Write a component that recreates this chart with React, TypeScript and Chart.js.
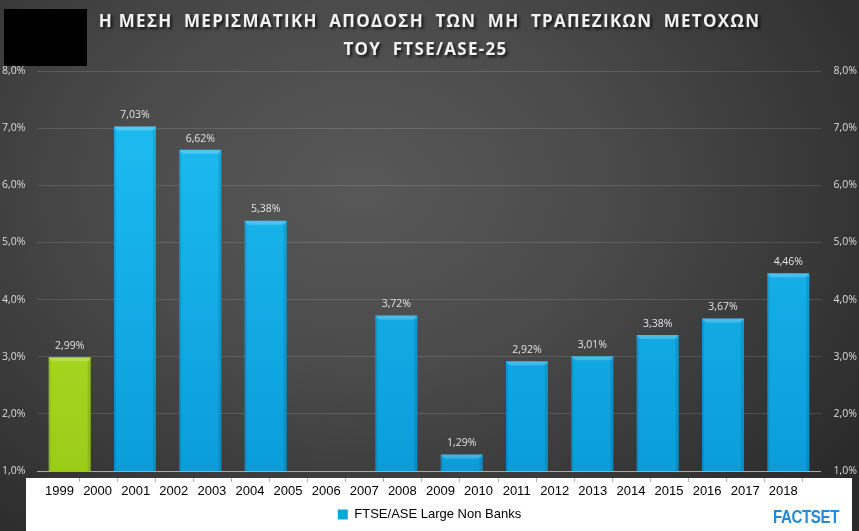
import React, { useEffect, useRef } from 'react';
import { Chart, registerables } from 'chart.js';

Chart.register(...registerables);

const titleLines = [
  'Η ΜΕΣΗ  ΜΕΡΙΣΜΑΤΙΚΗ  ΑΠΟΔΟΣΗ  ΤΩΝ  ΜΗ  ΤΡΑΠΕΖΙΚΩΝ  ΜΕΤΟΧΩΝ',
  'ΤΟΥ  FTSE/ASE-25',
];
const yearLabels = [
  '1999', '2000', '2001', '2002', '2003', '2004', '2005', '2006', '2007', '2008',
  '2009', '2010', '2011', '2012', '2013', '2014', '2015', '2016', '2017', '2018',
];
const barSlots = ['2000', '2001', '2003', '2004', '2006', '2007', '2008', '2010', '2011', '2013', '2015', '2016'];
const dividendYield: (number | null)[] = [2.99, 7.03, 6.62, 5.38, null, 3.72, 1.29, 2.92, 3.01, 3.38, 3.67, 4.46];
const seriesName = 'FTSE/ASE Large Non Banks';
const yMin = 1;
const yMax = 8;

const fmtPct = (v: number, d: number) => v.toFixed(d).replace('.', ',') + '%';

export default function App() {
  const ref = useRef<HTMLCanvasElement>(null);

  useEffect(() => {
    document.body.style.margin = '0';
    const canvas = ref.current!;

    const barFill = (ctx: any) => {
      const chart = ctx.chart;
      const area = chart.chartArea;
      const green = ctx.dataIndex === 0;
      if (!area) return green ? '#a6d81e' : '#0aa6e0';
      const g = chart.ctx.createLinearGradient(0, area.top, 0, area.bottom);
      if (green) {
        g.addColorStop(0, '#bbea2a');
        g.addColorStop(1, '#9ccc1a');
      } else {
        g.addColorStop(0, '#20bff4');
        g.addColorStop(1, '#0a9dda');
      }
      return g;
    };

    const decor = {
      id: 'decor',
      beforeDraw(chart: any) {
        const { ctx, chartArea } = chart;
        ctx.save();
        ctx.fillStyle = '#ffffff';
        ctx.fillRect(26, chartArea.bottom + 7, chart.width - 33, chart.height - chartArea.bottom - 7);
        const xs = chart.scales.xl;
        ctx.strokeStyle = '#b0b0b0';
        ctx.lineWidth = 1;
        for (let k = 1; k <= yearLabels.length; k++) {
          const x = Math.round(xs.getPixelForValue(k)) + 0.5;
          ctx.beginPath();
          ctx.moveTo(x, chartArea.bottom + 7);
          ctx.lineTo(x, chartArea.bottom + 11);
          ctx.stroke();
        }
        ctx.restore();
      },
      afterDatasetsDraw(chart: any) {
        const { ctx, chartArea } = chart;
        const meta = chart.getDatasetMeta(0);
        ctx.save();
        meta.data.forEach((bar: any, i: number) => {
          const v = dividendYield[i];
          if (v == null) return;
          const w = bar.width;
          const bottom = Math.min(bar.base, chartArea.bottom);
          ctx.fillStyle = 'rgba(255,255,255,0.22)';
          ctx.beginPath();
          ctx.moveTo(bar.x - w / 2, bar.y);
          ctx.lineTo(bar.x + w / 2, bar.y);
          ctx.lineTo(bar.x + w / 2 - 4, bar.y + 4);
          ctx.lineTo(bar.x - w / 2 + 4, bar.y + 4);
          ctx.closePath();
          ctx.fill();
          ctx.fillStyle = 'rgba(0,0,0,0.10)';
          ctx.fillRect(bar.x + w / 2 - 3, bar.y + 4, 3, bottom - bar.y - 4);
          ctx.fillRect(bar.x - w / 2, bar.y + 4, 2, bottom - bar.y - 4);
          ctx.fillStyle = '#e2e2e2';
          ctx.font = '10.5px "Open Sans", sans-serif';
          ctx.textAlign = 'center';
          ctx.textBaseline = 'bottom';
          ctx.fillText(fmtPct(v, 2), bar.x, bar.y - 6);
        });
        ctx.restore();
      },
      afterDraw(chart: any) {
        const { ctx } = chart;
        ctx.save();
        ctx.font = 'bold 17px "Open Sans", sans-serif';
        (ctx as any).letterSpacing = '1.3px';
        ctx.fillStyle = '#f2f2f2';
        ctx.textAlign = 'center';
        ctx.textBaseline = 'middle';
        ctx.shadowColor = 'rgba(0,0,0,0.75)';
        ctx.shadowBlur = 3;
        ctx.shadowOffsetX = 2;
        ctx.shadowOffsetY = 2;
        ctx.fillText(titleLines[0], chart.width / 2, 22);
        ctx.fillText(titleLines[1], chart.width / 2 - 4, 50);
        ctx.restore();
      },
    };

    const yTickFont = { family: '"Open Sans", sans-serif', size: 10.5 };

    const chart = new Chart(canvas, {
      type: 'bar',
      data: {
        labels: barSlots,
        datasets: [
          {
            label: seriesName,
            data: dividendYield,
            backgroundColor: barFill,
            borderWidth: 0,
            barPercentage: 0.643,
            categoryPercentage: 1,
            xAxisID: 'x',
            yAxisID: 'y',
          },
        ],
      },
      options: {
        animation: false,
        responsive: false,
        layout: { padding: { top: 71, left: 2, right: 2, bottom: 0 } },
        plugins: {
          title: { display: false },
          tooltip: { enabled: false },
          legend: {
            display: true,
            position: 'bottom',
            labels: {
              color: '#000',
              font: { family: '"Liberation Sans", Arial, sans-serif', size: 13 },
              boxWidth: 10,
              boxHeight: 10,
              padding: 8,
              generateLabels: () => [
                {
                  text: seriesName,
                  fillStyle: '#0aa6e0',
                  strokeStyle: '#0aa6e0',
                  lineWidth: 0,
                  hidden: false,
                  datasetIndex: 0,
                } as any,
              ],
            },
          },
        },
        scales: {
          x: {
            type: 'category',
            display: false,
            offset: true,
          },
          xl: {
            type: 'linear',
            position: 'bottom',
            min: 0.424,
            max: 19.975,
            afterBuildTicks: (scale: any) => {
              scale.ticks = yearLabels.map((_, i) => ({ value: i + 0.5 }));
            },
            afterFit: (scale: any) => {
              scale.height = 29;
            },
            grid: { display: false, drawTicks: false },
            border: { display: false },
            ticks: {
              autoSkip: false,
              maxRotation: 0,
              padding: 13,
              color: '#000',
              font: { family: '"Liberation Sans", Arial, sans-serif', size: 13 },
              callback: (_v: any, i: number) => yearLabels[i],
            },
          },
          y: {
            type: 'linear',
            position: 'left',
            min: yMin,
            max: yMax,
            afterFit: (scale: any) => {
              scale.width = 35;
            },
            border: { display: false },
            grid: {
              drawTicks: false,
              color: (c: any) => (c.tick && c.tick.value === yMin ? '#a8a8a8' : 'rgba(255,255,255,0.13)'),
            },
            ticks: {
              stepSize: 1,
              crossAlign: 'far',
              color: '#dcdcdc',
              font: yTickFont,
              callback: (v: any) => fmtPct(Number(v), 1),
            },
          },
          y2: {
            type: 'linear',
            position: 'right',
            min: yMin,
            max: yMax,
            afterFit: (scale: any) => {
              scale.width = 36;
            },
            border: { display: false },
            grid: { display: false, drawOnChartArea: false },
            ticks: {
              stepSize: 1,
              crossAlign: 'far',
              color: '#dcdcdc',
              font: yTickFont,
              callback: (v: any) => fmtPct(Number(v), 1),
            },
          },
        },
      } as any,
      plugins: [decor],
    });

    return () => chart.destroy();
  }, []);

  return (
    <div
      style={{
        position: 'relative',
        width: 859,
        height: 531,
        overflow: 'hidden',
        background:
          'radial-gradient(ellipse 70% 85% at 42% 35%, #585858 0%, #4b4b4b 40%, #2b2b2b 100%)',
      }}
    >
      <canvas ref={ref} width={859} height={531} style={{ position: 'absolute', left: 0, top: 0 }} />
      <div style={{ position: 'absolute', left: 4, top: 9, width: 83, height: 57, background: '#000' }} />
      <div
        style={{
          position: 'absolute',
          left: 773,
          top: 507,
          font: 'bold 18px "Liberation Sans Narrow", "Liberation Sans", Arial, sans-serif',
          color: '#2389db',
          letterSpacing: '-0.5px',
          transform: 'scaleX(0.84)',
          transformOrigin: 'left top',
          lineHeight: '20px',
        }}
      >
        FACTSET
      </div>
    </div>
  );
}
